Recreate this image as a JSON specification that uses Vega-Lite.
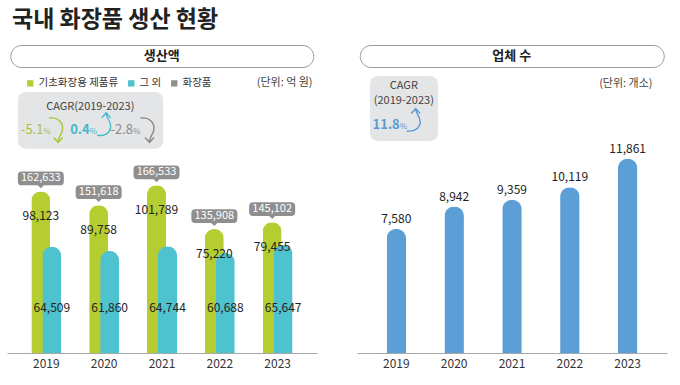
{
  "$schema": "https://vega.github.io/schema/vega-lite/v6.json",
  "background": "white",
  "padding": {"left": 7, "top": 8, "right": 5, "bottom": 5},
  "title": {"text": "국내 화장품 생산 현황", "anchor": "start", "fontSize": 23, "fontWeight": "bold", "font": "Noto Sans CJK KR", "color": "#222222", "offset": 13, "dx": 5},
  "config": {"font": "Noto Sans CJK KR", "view": {"stroke": null}},
  "datasets": {
    "production": [
      {"year": "2019", "basic": 98123, "other": 64509, "total": 162633},
      {"year": "2020", "basic": 89758, "other": 61860, "total": 151618},
      {"year": "2021", "basic": 101789, "other": 64744, "total": 166533},
      {"year": "2022", "basic": 75220, "other": 60688, "total": 135908},
      {"year": "2023", "basic": 79455, "other": 65647, "total": 145102}
    ],
    "companies": [
      {"year": "2019", "count": 7580},
      {"year": "2020", "count": 8942},
      {"year": "2021", "count": 9359},
      {"year": "2022", "count": 10119},
      {"year": "2023", "count": 11861}
    ]
  },
  "spacing": 40,
  "hconcat": [
    {
      "spacing": 5,
      "center": true,
      "vconcat": [
        {
          "width": 303, "height": 22,
          "view": {"stroke": "#9a9a9a", "strokeWidth": 1, "cornerRadius": 11, "fill": "white"},
          "data": {"values": [{}]},
          "mark": {"type": "text", "fontSize": 13, "fontWeight": "bold", "color": "#222222", "baseline": "middle"},
          "encoding": {"text": {"value": "생산액"}}
        },
        {
          "width": 310, "height": 280,
          "data": {"name": "production"},
          "layer": [
            {
              "mark": {"type": "bar", "width": 19, "xOffset": -5.5, "cornerRadiusTopLeft": 9.5, "cornerRadiusTopRight": 9.5},
              "encoding": {
                "x": {"field": "year", "type": "nominal", "title": null, "scale": {"domain": ["2019", "2020", "2021", "2022", "2023"], "paddingInner": 0, "paddingOuter": 0.18}, "axis": {"labelAngle": 0, "ticks": false, "domainColor": "#a8a8a8", "labelFontSize": 12, "labelColor": "#333333", "labelPadding": 5}},
                "y": {"field": "basic", "type": "quantitative", "scale": {"domain": [0, 170000], "nice": false}, "axis": null},
                "color": {"datum": "기초화장용 제품류", "type": "nominal", "scale": {"domain": ["기초화장용 제품류", "그 외", "화장품"], "range": ["#b6cd32", "#4fc2d0", "#8f8f8f"]}, "legend": {"orient": "none", "legendX": 18, "legendY": 33, "direction": "horizontal", "title": null, "symbolType": "square", "symbolSize": 40, "labelFontSize": 10.5, "labelColor": "#333333", "columnPadding": 7, "labelOffset": 3, "symbolStrokeWidth": 0}}
              }
            },
            {
              "mark": {"type": "bar", "width": 19, "xOffset": 5.5, "cornerRadiusTopLeft": 9.5, "cornerRadiusTopRight": 9.5},
              "encoding": {
                "x": {"field": "year", "type": "nominal", "title": null},
                "y": {"field": "other", "type": "quantitative", "axis": null},
                "color": {"datum": "그 외", "type": "nominal"}
              }
            },
            {
              "mark": {"type": "point", "filled": true, "opacity": 1, "size": 2116, "xOffset": -5.5, "yOffset": -13, "strokeWidth": 0, "shape": "M -0.83,-0.3 L 0.83,-0.3 Q 1,-0.3 1,-0.13 L 1,0.13 Q 1,0.3 0.83,0.3 L 0.13,0.3 L 0,0.43 L -0.13,0.3 L -0.83,0.3 Q -1,0.3 -1,0.13 L -1,-0.13 Q -1,-0.3 -0.83,-0.3 Z"},
              "encoding": {
                "x": {"field": "year", "type": "nominal", "title": null},
                "y": {"field": "basic", "type": "quantitative", "axis": null},
                "color": {"datum": "화장품", "type": "nominal"}
              }
            },
            {
              "mark": {"type": "text", "xOffset": -5.5, "yOffset": -13, "fontSize": 11, "color": "white", "baseline": "middle"},
              "encoding": {
                "x": {"field": "year", "type": "nominal", "title": null},
                "y": {"field": "basic", "type": "quantitative", "axis": null},
                "text": {"field": "total", "type": "quantitative", "format": ","}
              }
            },
            {
              "mark": {"type": "text", "xOffset": -5.5, "yOffset": 25, "fontSize": 12, "color": "#222222", "baseline": "middle"},
              "encoding": {
                "x": {"field": "year", "type": "nominal", "title": null},
                "y": {"field": "basic", "type": "quantitative", "axis": null},
                "text": {"field": "basic", "type": "quantitative", "format": ","}
              }
            },
            {
              "mark": {"type": "text", "xOffset": 5.5, "fontSize": 12, "color": "#222222", "baseline": "middle"},
              "encoding": {
                "x": {"field": "year", "type": "nominal", "title": null},
                "y": {"datum": 27300, "type": "quantitative", "axis": null},
                "text": {"field": "other", "type": "quantitative", "format": ","}
              }
            },
            {
              "data": {"values": [{}]},
              "mark": {"type": "text", "align": "right", "baseline": "middle", "dx": 6, "fontSize": 11, "color": "#444444"},
              "encoding": {
                "x": {"datum": "2023", "type": "nominal", "bandPosition": 1, "title": null},
                "y": {"datum": 163900, "type": "quantitative", "axis": null},
                "text": {"value": "(단위: 억 원)"}
              }
            },
            {
              "data": {"values": [{}]},
              "mark": {"type": "rect", "cornerRadius": 8, "color": "#e4e5e7"},
              "encoding": {
                "x": {"datum": "2019", "type": "nominal", "bandPosition": 0.01, "title": null},
                "x2": {"datum": "2021", "bandPosition": 0.52},
                "y": {"datum": 158500, "type": "quantitative", "axis": null},
                "y2": {"datum": 124000}
              }
            },
            {
              "data": {"values": [{}]},
              "mark": {"type": "text", "baseline": "middle", "fontSize": 11, "color": "#444444"},
              "encoding": {
                "x": {"datum": "2020", "type": "nominal", "bandPosition": 0.26, "title": null},
                "y": {"datum": 149500, "type": "quantitative", "axis": null},
                "text": {"value": "CAGR(2019-2023)"}
              }
            },
            {
              "data": {"values": [{}]},
              "mark": {"type": "text", "align": "right", "baseline": "alphabetic", "fontSize": 13, "color": "#a9c43a"},
              "encoding": {
                "x": {"datum": "2019", "type": "nominal", "bandPosition": 0.45, "title": null},
                "y": {"datum": 133000, "type": "quantitative", "axis": null},
                "text": {"value": "-5.1"}
              }
            },
            {
              "data": {"values": [{}]},
              "mark": {"type": "text", "align": "left", "baseline": "alphabetic", "fontSize": 8, "color": "#a9c43a"},
              "encoding": {
                "x": {"datum": "2019", "type": "nominal", "bandPosition": 0.45, "title": null},
                "y": {"datum": 133000, "type": "quantitative", "axis": null},
                "text": {"value": "%"}
              }
            },
            {
              "data": {"values": [{}]},
              "mark": {"type": "point", "filled": false, "opacity": 1, "size": 400, "strokeWidth": 1.4, "color": "#a9c43a", "shape": "M -0.7,-1.2 C 0.3,-1.3 0.8,-0.6 0.6,0.1 C 0.5,0.5 0.2,0.7 0.2,1.2 M -0.25,0.75 L 0.2,1.25 L 0.65,0.75"},
              "encoding": {
                "x": {"datum": "2019", "type": "nominal", "bandPosition": 0.67, "title": null},
                "y": {"datum": 135400, "type": "quantitative", "axis": null}
              }
            },
            {
              "data": {"values": [{}]},
              "mark": {"type": "text", "align": "right", "baseline": "alphabetic", "fontSize": 13, "fontWeight": "bold", "color": "#43b8cb"},
              "encoding": {
                "x": {"datum": "2020", "type": "nominal", "bandPosition": 0.25, "title": null},
                "y": {"datum": 133000, "type": "quantitative", "axis": null},
                "text": {"value": "0.4"}
              }
            },
            {
              "data": {"values": [{}]},
              "mark": {"type": "text", "align": "left", "baseline": "alphabetic", "fontSize": 8, "color": "#43b8cb"},
              "encoding": {
                "x": {"datum": "2020", "type": "nominal", "bandPosition": 0.25, "title": null},
                "y": {"datum": 133000, "type": "quantitative", "axis": null},
                "text": {"value": "%"}
              }
            },
            {
              "data": {"values": [{}]},
              "mark": {"type": "point", "filled": false, "opacity": 1, "size": 400, "strokeWidth": 1.4, "color": "#43b8cb", "shape": "M -0.7,1.1 C 0.3,1.2 0.8,0.6 0.6,-0.1 C 0.5,-0.5 0.2,-0.7 0.2,-1.1 M -0.25,-0.65 L 0.2,-1.15 L 0.65,-0.65"},
              "encoding": {
                "x": {"datum": "2020", "type": "nominal", "bandPosition": 0.5, "title": null},
                "y": {"datum": 138800, "type": "quantitative", "axis": null}
              }
            },
            {
              "data": {"values": [{}]},
              "mark": {"type": "text", "align": "right", "baseline": "alphabetic", "fontSize": 13, "color": "#8a8a8a"},
              "encoding": {
                "x": {"datum": "2021", "type": "nominal", "bandPosition": 0.0, "title": null},
                "y": {"datum": 133000, "type": "quantitative", "axis": null},
                "text": {"value": "-2.8"}
              }
            },
            {
              "data": {"values": [{}]},
              "mark": {"type": "text", "align": "left", "baseline": "alphabetic", "fontSize": 8, "color": "#8a8a8a"},
              "encoding": {
                "x": {"datum": "2021", "type": "nominal", "bandPosition": 0.0, "title": null},
                "y": {"datum": 133000, "type": "quantitative", "axis": null},
                "text": {"value": "%"}
              }
            },
            {
              "data": {"values": [{}]},
              "mark": {"type": "point", "filled": false, "opacity": 1, "size": 400, "strokeWidth": 1.4, "color": "#8a8a8a", "shape": "M -0.7,-1.2 C 0.3,-1.3 0.8,-0.6 0.6,0.1 C 0.5,0.5 0.2,0.7 0.2,1.2 M -0.25,0.75 L 0.2,1.25 L 0.65,0.75"},
              "encoding": {
                "x": {"datum": "2021", "type": "nominal", "bandPosition": 0.25, "title": null},
                "y": {"datum": 135400, "type": "quantitative", "axis": null}
              }
            }
          ]
        }
      ]
    },
    {
      "spacing": 5,
      "center": true,
      "vconcat": [
        {
          "width": 304, "height": 22,
          "view": {"stroke": "#9a9a9a", "strokeWidth": 1, "cornerRadius": 11, "fill": "white"},
          "data": {"values": [{}]},
          "mark": {"type": "text", "fontSize": 13, "fontWeight": "bold", "color": "#222222", "baseline": "middle"},
          "encoding": {"text": {"value": "업체 수"}}
        },
        {
          "width": 310, "height": 280,
          "data": {"name": "companies"},
          "layer": [
            {
              "mark": {"type": "bar", "width": 19.5, "color": "#5c9fd6", "cornerRadiusTopLeft": 9.75, "cornerRadiusTopRight": 9.75},
              "encoding": {
                "x": {"field": "year", "type": "nominal", "title": null, "scale": {"domain": ["2019", "2020", "2021", "2022", "2023"], "paddingInner": 0, "paddingOuter": 0.18}, "axis": {"labelAngle": 0, "ticks": false, "domainColor": "#a8a8a8", "labelFontSize": 12, "labelColor": "#333333", "labelPadding": 5}},
                "y": {"field": "count", "type": "quantitative", "scale": {"domain": [0, 17100], "nice": false}, "axis": null}
              }
            },
            {
              "mark": {"type": "text", "baseline": "bottom", "dy": -3, "fontSize": 12, "color": "#222222"},
              "encoding": {
                "x": {"field": "year", "type": "nominal", "title": null},
                "y": {"field": "count", "type": "quantitative", "axis": null},
                "text": {"field": "count", "type": "quantitative", "format": ","}
              }
            },
            {
              "data": {"values": [{}]},
              "mark": {"type": "text", "align": "right", "baseline": "middle", "dx": -4, "fontSize": 11, "color": "#444444"},
              "encoding": {
                "x": {"datum": "2023", "type": "nominal", "bandPosition": 1, "title": null},
                "y": {"datum": 16430, "type": "quantitative", "axis": null},
                "text": {"value": "(단위: 개소)"}
              }
            },
            {
              "data": {"values": [{}]},
              "mark": {"type": "rect", "cornerRadius": 8, "color": "#e4e5e7"},
              "encoding": {
                "x": {"datum": "2019", "type": "nominal", "bandPosition": 0.045, "title": null},
                "x2": {"datum": "2020", "bandPosition": 0.22},
                "y": {"datum": 16917, "type": "quantitative", "axis": null},
                "y2": {"datum": 12947}
              }
            },
            {
              "data": {"values": [{}]},
              "mark": {"type": "text", "baseline": "middle", "fontSize": 11, "color": "#444444"},
              "encoding": {
                "x": {"datum": "2019", "type": "nominal", "bandPosition": 0.63, "title": null},
                "y": {"datum": 16330, "type": "quantitative", "axis": null},
                "text": {"value": "CAGR"}
              }
            },
            {
              "data": {"values": [{}]},
              "mark": {"type": "text", "baseline": "middle", "fontSize": 11, "color": "#444444"},
              "encoding": {
                "x": {"datum": "2019", "type": "nominal", "bandPosition": 0.63, "title": null},
                "y": {"datum": 15390, "type": "quantitative", "axis": null},
                "text": {"value": "(2019-2023)"}
              }
            },
            {
              "data": {"values": [{}]},
              "mark": {"type": "text", "align": "right", "baseline": "alphabetic", "fontSize": 13, "fontWeight": "bold", "color": "#5a9bd3"},
              "encoding": {
                "x": {"datum": "2019", "type": "nominal", "bandPosition": 0.56, "title": null},
                "y": {"datum": 13680, "type": "quantitative", "axis": null},
                "text": {"value": "11.8"}
              }
            },
            {
              "data": {"values": [{}]},
              "mark": {"type": "text", "align": "left", "baseline": "alphabetic", "fontSize": 8, "color": "#5a9bd3"},
              "encoding": {
                "x": {"datum": "2019", "type": "nominal", "bandPosition": 0.56, "title": null},
                "y": {"datum": 13680, "type": "quantitative", "axis": null},
                "text": {"value": "%"}
              }
            },
            {
              "data": {"values": [{}]},
              "mark": {"type": "point", "filled": false, "opacity": 1, "size": 400, "strokeWidth": 1.4, "color": "#5a9bd3", "shape": "M -0.7,1.1 C 0.3,1.2 0.8,0.6 0.6,-0.1 C 0.5,-0.5 0.2,-0.7 0.2,-1.1 M -0.25,-0.65 L 0.2,-1.15 L 0.65,-0.65"},
              "encoding": {
                "x": {"datum": "2019", "type": "nominal", "bandPosition": 0.8, "title": null},
                "y": {"datum": 14230, "type": "quantitative", "axis": null}
              }
            }
          ]
        }
      ]
    }
  ]
}
